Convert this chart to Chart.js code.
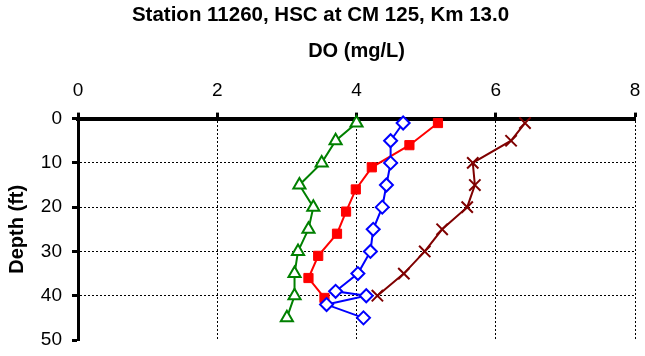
<!DOCTYPE html>
<html>
<head>
<meta charset="utf-8">
<script src="https://cdn.jsdelivr.net/npm/chart.js"></script>
<style>
  html, body { margin: 0; padding: 0; background: #fff; }
  #wrap { width: 645px; height: 356px; }
</style>
</head>
<body>
<div id="wrap"><canvas id="doChart"></canvas></div>
<script>
// DO (mg/L) profiles vs depth (ft)
const greenDepth = [1, 5, 10, 15, 20, 25, 30, 35, 40, 45];
const greenDO = [4.0, 3.70, 3.50, 3.18, 3.38, 3.31, 3.16, 3.11, 3.11, 3.0];

const blueDepth = [1, 5, 10, 15, 20, 25, 30, 35, 39, 40, 42, 45];
const blueDO = [4.67, 4.49, 4.49, 4.43, 4.37, 4.24, 4.20, 4.02, 3.70, 4.14, 3.57, 4.10];

const redDepth = [1, 6, 11, 16, 21, 26, 31, 36, 40.5];
const redDO = [5.17, 4.76, 4.22, 3.99, 3.85, 3.72, 3.45, 3.31, 3.54];

const maroonDepth = [1, 5, 10, 15, 20, 25, 30, 35, 40];
const maroonDO = [6.42, 6.22, 5.67, 5.70, 5.59, 5.23, 4.98, 4.68, 4.30];

const xTicks = [0, 2, 4, 6, 8];
const yTicks = [0, 10, 20, 30, 40, 50];

function pts(xs, ys) {
  return xs.map((v, i) => ({ x: v, y: ys[i] }));
}

const FONT = "'Liberation Sans', Arial, sans-serif";

const ctx = document.getElementById("doChart").getContext("2d");
new Chart(ctx, {
  type: "scatter",
  data: {
    datasets: [
      {
        data: pts(greenDO, greenDepth),
        showLine: true,
        borderColor: "#008000",
        borderWidth: 2,
        pointStyle: "triangle",
        pointRadius: 7,
        pointBorderWidth: 2,
        pointBackgroundColor: "#ffffff",
        pointBorderColor: "#008000",
        clip: false,
      },
      {
        data: pts(blueDO, blueDepth),
        showLine: true,
        borderColor: "#0000ff",
        borderWidth: 2,
        pointStyle: "rectRot",
        pointRadius: 6.5,
        pointBorderWidth: 2,
        pointBackgroundColor: "#ffffff",
        pointBorderColor: "#0000ff",
        clip: false,
      },
      {
        data: pts(redDO, redDepth),
        showLine: true,
        borderColor: "#ff0000",
        borderWidth: 2,
        pointStyle: "rect",
        pointRadius: 6.5,
        pointBorderWidth: 1,
        pointBackgroundColor: "#ff0000",
        pointBorderColor: "#ff0000",
        clip: false,
      },
      {
        data: pts(maroonDO, maroonDepth),
        showLine: true,
        borderColor: "#7f0000",
        borderWidth: 2,
        pointStyle: "crossRot",
        pointRadius: 8,
        pointBorderWidth: 2,
        pointBorderColor: "#7f0000",
        clip: false,
      },
    ],
  },
  options: {
    responsive: true,
    maintainAspectRatio: false,
    animation: false,
    layout: { padding: { left: 0, right: 4, top: 0, bottom: 16 } },
    plugins: {
      legend: { display: false },
      tooltip: { enabled: false },
      title: {
        display: true,
        text: "Station 11260, HSC at CM 125, Km 13.0",
        color: "#000",
        font: { family: FONT, size: 20.5, weight: "bold" },
        padding: { top: 3, bottom: 0 },
      },
    },
    scales: {
      x: {
        type: "linear",
        position: "top",
        min: 0,
        max: 8,
        afterBuildTicks: (axis) => { axis.ticks = xTicks.map((v) => ({ value: v })); },
        afterFit: (scale) => {
          scale.height = 91;
          scale.paddingLeft = 0;
          scale.paddingRight = 0;
        },
        title: {
          display: true,
          text: "DO (mg/L)",
          color: "#000",
          font: { family: FONT, size: 20, weight: "bold" },
          padding: { top: 12, bottom: 0 },
        },
        ticks: {
          color: "#000",
          font: { family: FONT, size: 19 },
          padding: 10,
          maxRotation: 0,
        },
        grid: {
          color: (c) => (c.tick && c.tick.value === 0 ? "rgba(0,0,0,0)" : "#000"),
          lineWidth: 1,
          tickColor: "#000",
          tickWidth: 3,
          tickLength: 6,
        },
        border: { display: true, color: "#000", width: 4, dash: [2, 2] },
      },
      y: {
        type: "linear",
        reverse: true,
        min: 0,
        max: 50,
        afterBuildTicks: (axis) => { axis.ticks = yTicks.map((v) => ({ value: v })); },
        afterFit: (scale) => {
          scale.width = 78;
          scale.paddingTop = 0;
          scale.paddingBottom = 0;
        },
        title: {
          display: true,
          text: "Depth (ft)",
          color: "#000",
          font: { family: FONT, size: 20, weight: "bold" },
          padding: { top: 5, bottom: 0 },
        },
        ticks: {
          color: "#000",
          font: { family: FONT, size: 19 },
          padding: 10,
        },
        grid: {
          color: (c) => (c.tick && (c.tick.value === 0 || c.tick.value === 50) ? "rgba(0,0,0,0)" : "#000"),
          lineWidth: 1,
          tickColor: "#000",
          tickWidth: 3,
          tickLength: 6,
        },
        border: { display: true, color: "#000", width: 3, dash: [2, 2] },
      },
    },
  },
});
</script>
</body>
</html>
